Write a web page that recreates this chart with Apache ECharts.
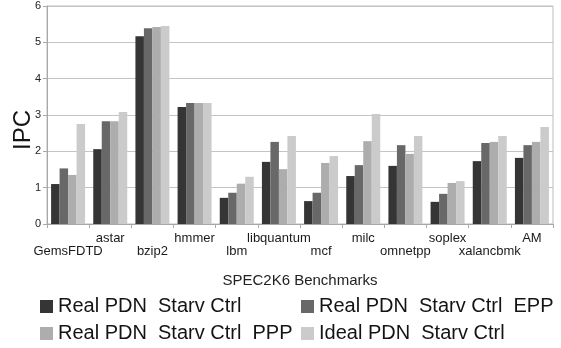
<!DOCTYPE html>
<html>
<head>
<meta charset="utf-8">
<script src="https://cdn.jsdelivr.net/npm/echarts@6/dist/echarts.min.js"></script>
<style>
html,body{margin:0;padding:0;background:#fff;}
#c{width:561px;height:348px;}
</style>
</head>
<body>
<div id="c"></div>
<script>
const categories = ['GemsFDTD','astar','bzip2','hmmer','lbm','libquantum','mcf','milc','omnetpp','soplex','xalancbmk','AM'];
const seriesNames = ['Real PDN  Starv Ctrl','Real PDN  Starv Ctrl  EPP','Real PDN  Starv Ctrl  PPP','Ideal PDN  Starv Ctrl'];
const realStarv    = [1.10, 2.06, 5.17, 3.22, 0.72, 1.71, 0.63, 1.32, 1.60, 0.61, 1.73, 1.82];
const realStarvEPP = [1.53, 2.83, 5.39, 3.33, 0.86, 2.26, 0.86, 1.62, 2.17, 0.83, 2.23, 2.17];
const realStarvPPP = [1.35, 2.83, 5.42, 3.33, 1.11, 1.51, 1.68, 2.28, 1.93, 1.13, 2.26, 2.26];
const idealStarv   = [2.75, 3.08, 5.45, 3.33, 1.30, 2.42, 1.87, 3.03, 2.42, 1.18, 2.42, 2.67];
const yTicks = [0, 1, 2, 3, 4, 5, 6];
const colors = ['#353535', '#686868', '#adadad', '#cbcbcb'];
const allValues = [realStarv, realStarvEPP, realStarvPPP, idealStarv];

const FONT = 'Liberation Sans, Arial, sans-serif';
const chart = echarts.init(document.getElementById('c'), null, {renderer: 'canvas'});
const legendCommon = {
  orient: 'vertical', icon: 'rect', itemWidth: 13, itemHeight: 13, itemGap: 7, padding: 0,
  textStyle: {fontFamily: FONT, fontSize: 20, lineHeight: 20, color: '#141414'},
  selectedMode: false
};
chart.setOption({
  animation: false,
  color: colors,
  grid: {left: 47, right: 8, top: 6, bottom: 124, show: true, borderColor: '#bdbdbd', borderWidth: 1},
  graphic: [{
    type: 'text', x: 23.5, y: 130, rotation: Math.PI / 2,
    style: {text: 'IPC', fontFamily: FONT, fontSize: 24, fill: '#141414', align: 'center', verticalAlign: 'middle'}
  }],
  legend: [
    Object.assign({left: 40, top: 296.5, data: [seriesNames[0], seriesNames[2]]}, legendCommon),
    Object.assign({left: 301, top: 296.5, data: [seriesNames[1], seriesNames[3]]}, legendCommon)
  ],
  xAxis: {
    type: 'category', data: categories,
    name: 'SPEC2K6 Benchmarks', nameLocation: 'middle', nameGap: 49,
    nameTextStyle: {fontFamily: FONT, fontSize: 15, color: '#222'},
    axisLine: {lineStyle: {color: '#a8a8a8', width: 1}},
    axisTick: {show: true, length: 4, lineStyle: {color: '#a8a8a8'}},
    axisLabel: {
      interval: 0, margin: 7.5, fontFamily: FONT, fontSize: 13, lineHeight: 13.5, color: '#1a1a1a',
      formatter: function (v, i) { return i % 2 === 0 ? '\n' + v : v; }
    }
  },
  yAxis: {
    type: 'value', min: yTicks[0], max: yTicks[yTicks.length - 1], interval: 1,
    axisLine: {show: true, lineStyle: {color: '#a8a8a8', width: 1}},
    axisTick: {show: true, length: 4, lineStyle: {color: '#a8a8a8'}},
    axisLabel: {margin: 6, fontFamily: FONT, fontSize: 11, color: '#222'},
    splitLine: {lineStyle: {color: '#c4c4c4', width: 1}}
  },
  series: seriesNames.map(function (n, k) {
    return {name: n, type: 'bar', data: allValues[k], barGap: '0%', barCategoryGap: '19.4%',
      itemStyle: {color: colors[k]}};
  })
});
</script>
</body>
</html>
